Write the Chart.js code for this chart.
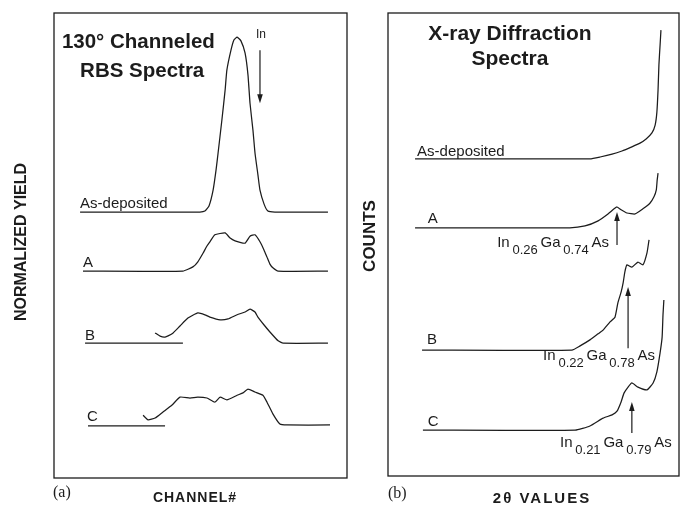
<!DOCTYPE html>
<html>
<head>
<meta charset="utf-8">
<script src="https://cdn.jsdelivr.net/npm/chart.js@4"></script>
<style>
  body { margin: 0; background: #fff; }
  #wrap { position: relative; width: 687px; height: 510px; }
  #rbs { position: absolute; left: 0; top: 0; }
  #xrd { position: absolute; left: 345px; top: 0; }
</style>
</head>
<body>
<div id="wrap">
  <canvas id="rbs" width="350" height="510"></canvas>
  <canvas id="xrd" width="342" height="510"></canvas>
</div>
<script>
// (a) channeled RBS spectra: channel (0-100) vs normalized yield (0-100)
const rbsAsDepX = [8.9, 49.8, 51.5, 52.9, 54.3, 55.3, 56.0, 57.3, 58.4, 59.0, 60.4, 61.4, 62.5, 63.8, 65.2, 66.2, 66.9, 67.9, 68.6, 69.6, 70.3, 71.7, 73.0, 75.4, 93.5];
const rbsAsDepY = [57.2, 57.2, 57.4, 58.5, 61.9, 66.2, 69.9, 77.0, 83.4, 87.7, 92.0, 94.2, 94.8, 94.0, 91.4, 86.7, 80.6, 74.8, 69.9, 65.2, 61.9, 58.9, 57.4, 57.2, 57.2];
const rbsAX = [9.9, 44.0, 47.4, 49.1, 50.9, 52.2, 53.2, 54.9, 58.4, 60.1, 61.8, 65.2, 66.9, 68.6, 70.3, 71.7, 72.7, 73.7, 74.7, 76.5, 93.5];
const rbsAY = [44.5, 44.5, 45.4, 46.5, 48.4, 49.9, 50.8, 52.3, 52.7, 51.6, 51.0, 50.5, 52.0, 52.3, 50.8, 49.0, 47.5, 46.0, 45.2, 44.5, 44.5];
const rbsBBaseX = [10.6, 44.0];
const rbsBBaseY = [29.0, 29.0];
const rbsBX = [34.5, 36.2, 37.9, 40.3, 43.0, 45.7, 49.1, 51.5, 53.2, 56.7, 59.4, 62.5, 65.2, 66.9, 68.6, 69.6, 71.7, 73.7, 76.5, 78.2, 93.5];
const rbsBY = [31.2, 30.5, 30.3, 31.0, 32.7, 34.4, 35.5, 35.1, 34.6, 34.0, 34.2, 35.1, 35.7, 36.3, 35.7, 34.6, 32.9, 31.4, 29.5, 29.0, 29.0];
const rbsCBaseX = [11.6, 37.9];
const rbsCBaseY = [11.2, 11.2];
const rbsCX = [30.4, 32.1, 34.5, 37.2, 40.3, 43.0, 46.4, 49.1, 52.2, 54.9, 56.7, 59.0, 62.5, 64.5, 66.2, 68.6, 71.3, 72.7, 74.7, 77.1, 79.5, 94.2];
const rbsCY = [13.5, 12.5, 12.9, 14.2, 15.7, 17.4, 17.2, 17.4, 17.2, 16.3, 17.4, 16.8, 17.8, 18.3, 19.1, 18.5, 17.8, 16.3, 13.8, 11.6, 11.4, 11.4];

// (b) x-ray diffraction: 2-theta (0-100) vs counts (0-100)
const xrdAsDepX = [9.3, 69.4, 72.9, 77.0, 80.4, 83.8, 86.6, 88.7, 90.7, 91.8, 92.4, 92.8, 93.1, 93.5, 93.8];
const xrdAsDepY = [68.5, 68.5, 68.9, 69.5, 70.2, 71.1, 71.9, 72.8, 74.1, 75.8, 78.6, 83.4, 88.8, 93.1, 96.3];
const xrdAX = [9.3, 62.5, 67.7, 72.2, 75.6, 77.7, 78.7, 80.1, 82.1, 84.9, 87.6, 90.0, 91.4, 92.2, 92.5, 92.8];
const xrdAY = [53.6, 53.6, 54.0, 55.1, 56.6, 57.7, 58.1, 57.5, 56.8, 56.6, 57.7, 58.9, 60.3, 61.8, 63.9, 65.4];
const xrdBX = [11.7, 63.2, 66.0, 69.4, 72.2, 73.9, 76.3, 78.0, 79.0, 80.1, 80.8, 81.4, 82.1, 83.8, 85.9, 87.6, 89.0, 89.7];
const xrdBY = [27.2, 27.2, 28.1, 29.4, 30.7, 31.5, 33.3, 34.3, 37.4, 39.7, 41.7, 44.1, 45.6, 45.1, 46.2, 45.6, 48.2, 51.0];
const xrdCX = [12.0, 64.3, 69.4, 73.9, 77.0, 78.7, 80.1, 81.1, 82.5, 83.8, 85.9, 89.0, 91.1, 92.4, 93.5, 94.2, 94.5, 94.8];
const xrdCY = [9.9, 9.9, 10.8, 12.5, 13.2, 14.0, 16.0, 17.9, 19.2, 20.1, 19.2, 18.6, 20.1, 22.5, 26.6, 30.0, 34.8, 38.0];

// peak labels: [In, Ga] fractions
const peakA = ["0.26", "0.74"];
const peakB = ["0.22", "0.78"];
const peakC = ["0.21", "0.79"];

const INK = "#1c1c1c";
const SANS = '"Liberation Sans", Arial, Helvetica, sans-serif';
const SERIF = '"Liberation Serif", "DejaVu Serif", serif';

function trace(xs, ys) {
  return {
    data: xs.map((x, i) => ({ x: x, y: ys[i] })),
    borderColor: INK,
    borderWidth: 1.25,
    pointRadius: 0,
    tension: 0.15,
    fill: false,
  };
}

function px(chart, x, y) {
  return [chart.scales.x.getPixelForValue(x), chart.scales.y.getPixelForValue(y)];
}

function label(ctx, str, x, y, font, align) {
  ctx.font = font;
  ctx.textAlign = align || "left";
  ctx.textBaseline = "alphabetic";
  ctx.fillText(str, x, y);
}

function formula(ctx, fr, x, y) {
  const parts = ["In", fr[0], "Ga", fr[1], "As"];
  let cx = x;
  ctx.textAlign = "left";
  parts.forEach((p, i) => {
    const sub = i % 2 === 1;
    ctx.font = (sub ? "13px " : "15px ") + SANS;
    ctx.fillText(p, cx, sub ? y + 7 : y);
    cx += ctx.measureText(p).width + 2.8;
  });
}

function arrow(ctx, x, yTail, yHead) {
  const d = yHead < yTail ? 1 : -1;
  ctx.lineWidth = 1.2;
  ctx.beginPath();
  ctx.moveTo(x, yTail);
  ctx.lineTo(x, yHead + d * 4);
  ctx.stroke();
  ctx.beginPath();
  ctx.moveTo(x, yHead);
  ctx.lineTo(x - 2.8, yHead + d * 9);
  ctx.lineTo(x + 2.8, yHead + d * 9);
  ctx.closePath();
  ctx.fill();
}

function vtext(ctx, str, x, y, font) {
  ctx.save();
  ctx.translate(x, y);
  ctx.rotate(-Math.PI / 2);
  ctx.font = font;
  ctx.textAlign = "center";
  ctx.textBaseline = "middle";
  ctx.fillText(str, 0, 0);
  ctx.restore();
}

const frame = {
  id: "frame",
  afterDraw(chart) {
    const a = chart.chartArea;
    const ctx = chart.ctx;
    ctx.save();
    ctx.strokeStyle = INK;
    ctx.lineWidth = 1.3;
    ctx.strokeRect(a.left, a.top, a.right - a.left, a.bottom - a.top);
    ctx.restore();
  },
};

const rbsText = {
  id: "rbsText",
  afterDraw(chart) {
    const ctx = chart.ctx;
    const a = chart.chartArea;
    ctx.save();
    ctx.fillStyle = INK;
    ctx.strokeStyle = INK;
    let p = px(chart, 2.7, 92.5);
    label(ctx, "130° Channeled", p[0], p[1], "bold 20.5px " + SANS);
    p = px(chart, 8.9, 86.2);
    label(ctx, "RBS Spectra", p[0], p[1], "bold 20.5px " + SANS);
    p = px(chart, 8.9, 58.1);
    label(ctx, "As-deposited", p[0], p[1], "15px " + SANS);
    p = px(chart, 9.9, 45.4);
    label(ctx, "A", p[0], p[1], "15px " + SANS);
    p = px(chart, 10.6, 29.7);
    label(ctx, "B", p[0], p[1], "15px " + SANS);
    p = px(chart, 11.3, 12.3);
    label(ctx, "C", p[0], p[1], "15px " + SANS);
    p = px(chart, 68.9, 94.6);
    label(ctx, "In", p[0], p[1], "12px " + SANS);
    const t = px(chart, 70.3, 92.0);
    const h = px(chart, 70.3, 80.6);
    arrow(ctx, t[0], t[1], h[1]);
    vtext(ctx, "NORMALIZED YIELD", 22, 242, "bold 16px " + SANS);
    label(ctx, "(a)", a.left - 1, 497, "16px " + SERIF);
    ctx.letterSpacing = "1px";
    label(ctx, "CHANNEL#", 195, 502, "bold 14px " + SANS, "center");
    ctx.restore();
  },
};

const xrdText = {
  id: "xrdText",
  afterDraw(chart) {
    const ctx = chart.ctx;
    const a = chart.chartArea;
    ctx.save();
    ctx.fillStyle = INK;
    ctx.strokeStyle = INK;
    let p = px(chart, 41.9, 94.2);
    label(ctx, "X-ray Diffraction", p[0], p[1], "bold 21px " + SANS, "center");
    p = px(chart, 41.9, 88.8);
    label(ctx, "Spectra", p[0], p[1], "bold 21px " + SANS, "center");
    p = px(chart, 10.0, 69.1);
    label(ctx, "As-deposited", p[0], p[1], "15px " + SANS);
    p = px(chart, 13.7, 54.6);
    label(ctx, "A", p[0], p[1], "15px " + SANS);
    p = px(chart, 13.4, 28.5);
    label(ctx, "B", p[0], p[1], "15px " + SANS);
    p = px(chart, 13.7, 10.8);
    label(ctx, "C", p[0], p[1], "15px " + SANS);

    p = px(chart, 37.5, 49.4);
    formula(ctx, peakA, p[0], p[1]);
    p = px(chart, 53.3, 25.1);
    formula(ctx, peakB, p[0], p[1]);
    p = px(chart, 59.1, 6.3);
    formula(ctx, peakC, p[0], p[1]);

    let t = px(chart, 78.7, 49.9), h = px(chart, 78.7, 57.0);
    arrow(ctx, t[0], t[1], h[1]);
    t = px(chart, 82.5, 27.6); h = px(chart, 82.5, 40.8);
    arrow(ctx, t[0], t[1], h[1]);
    t = px(chart, 83.8, 9.3); h = px(chart, 83.8, 16.0);
    arrow(ctx, t[0], t[1], h[1]);

    vtext(ctx, "COUNTS", 25, 236, "bold 17px " + SANS);
    label(ctx, "(b)", a.left, 498, "16px " + SERIF);
    ctx.letterSpacing = "2px";
    label(ctx, "2θ VALUES", 197, 503, "bold 15px " + SANS, "center");
    ctx.restore();
  },
};

function panelOptions(pad) {
  return {
    responsive: false,
    animation: false,
    layout: { padding: pad },
    plugins: { legend: { display: false }, tooltip: { enabled: false } },
    scales: {
      x: { type: "linear", min: 0, max: 100, display: false },
      y: { type: "linear", min: 0, max: 100, display: false },
    },
  };
}

new Chart(document.getElementById("rbs"), {
  type: "line",
  data: {
    datasets: [
      trace(rbsAsDepX, rbsAsDepY),
      trace(rbsAX, rbsAY),
      trace(rbsBBaseX, rbsBBaseY),
      trace(rbsBX, rbsBY),
      trace(rbsCBaseX, rbsCBaseY),
      trace(rbsCX, rbsCY),
    ],
  },
  options: panelOptions({ left: 54, right: 3, top: 13, bottom: 32 }),
  plugins: [frame, rbsText],
});

new Chart(document.getElementById("xrd"), {
  type: "line",
  data: {
    datasets: [
      trace(xrdAsDepX, xrdAsDepY),
      trace(xrdAX, xrdAY),
      trace(xrdBX, xrdBY),
      trace(xrdCX, xrdCY),
    ],
  },
  options: panelOptions({ left: 43, right: 8, top: 13, bottom: 34 }),
  plugins: [frame, xrdText],
});
</script>
</body>
</html>
